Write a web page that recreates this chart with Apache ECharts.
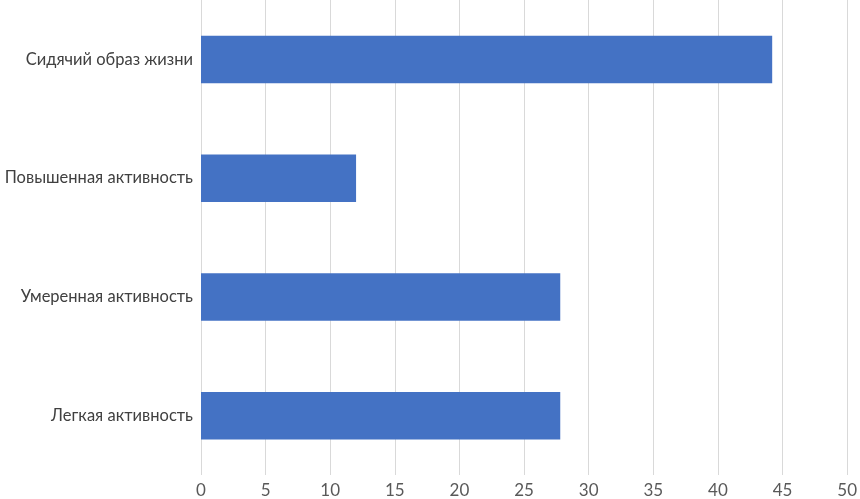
<!DOCTYPE html>
<html>
<head>
<meta charset="utf-8">
<script src="https://cdn.jsdelivr.net/npm/echarts@6/dist/echarts.min.js"></script>
<style>
  html, body { margin: 0; padding: 0; background: #fff; }
  #chart { width: 860px; height: 499px; }
</style>
</head>
<body>
<div id="chart"></div>
<script>
// категории снизу вверх
const categories = ['Легкая активность', 'Умеренная активность', 'Повышенная активность', 'Сидячий образ жизни'];
const values = [27.8, 27.8, 12.0, 44.2];
const xTicks = { min: 0, max: 50, interval: 5 };

const myChart = echarts.init(document.getElementById('chart'));
const option = {
  animation: false,
  textStyle: { fontFamily: 'Lato, "Open Sans", sans-serif' },
  grid: { left: 201, right: 9, top: 0, bottom: 22, containLabel: false },
  xAxis: {
    type: 'value',
    min: xTicks.min,
    max: xTicks.max,
    interval: xTicks.interval,
    axisLine: { show: false },
    axisTick: { show: false },
    axisLabel: { color: '#595959', fontSize: 17, margin: 7 },
    splitLine: { lineStyle: { color: '#d9d9d9', width: 1 } }
  },
  yAxis: {
    type: 'category',
    data: categories,
    axisLine: { show: false },
    axisTick: { show: false },
    axisLabel: { color: '#404040', fontSize: 16.5, margin: 8 }
  },
  series: [{
    type: 'bar',
    data: values,
    barWidth: '40%',
    itemStyle: { color: '#4472C4' }
  }]
};
myChart.setOption(option);
</script>
</body>
</html>
